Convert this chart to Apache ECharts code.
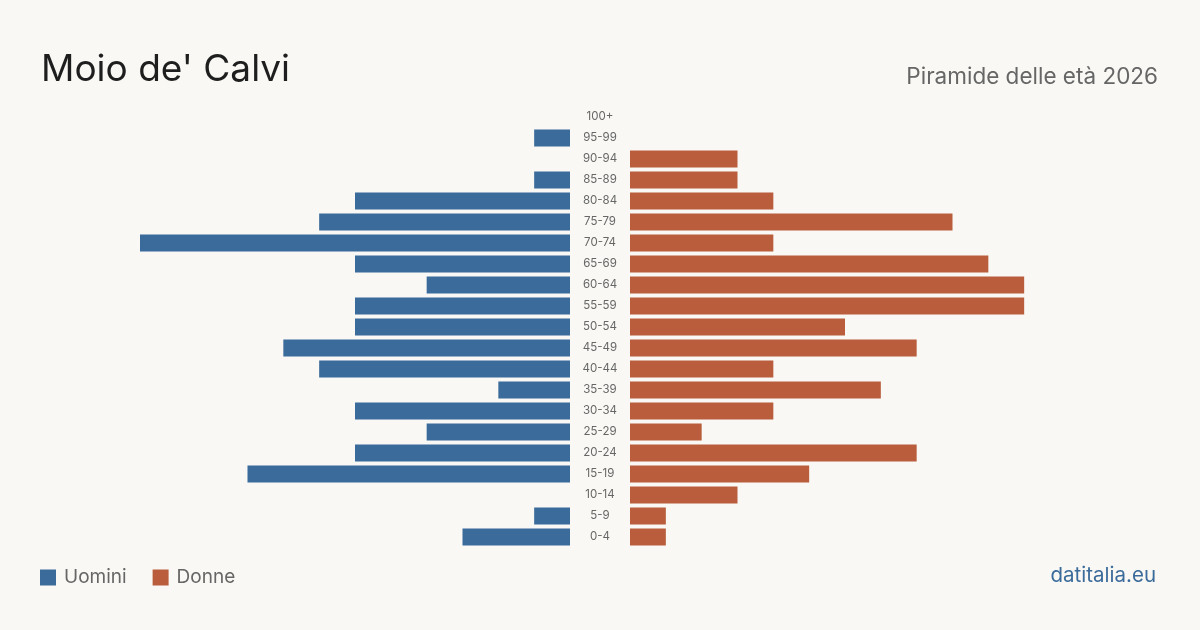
<!DOCTYPE html>
<html>
<head>
<meta charset="utf-8">
<script src="https://cdn.jsdelivr.net/npm/echarts@6/dist/echarts.min.js"></script>
<style>
  html, body { margin: 0; padding: 0; background: #f9f8f4; }
  #main { width: 1200px; height: 630px; }
</style>
</head>
<body>
<div id="main"></div>
<script>
// fasce d'età, dal basso verso l'alto
var ages = ['0-4', '5-9', '10-14', '15-19', '20-24', '25-29', '30-34', '35-39', '40-44', '45-49',
    '50-54', '55-59', '60-64', '65-69', '70-74', '75-79', '80-84', '85-89', '90-94', '95-99', '100+'];
var uomini = [3, 1, 0, 9, 6, 4, 6, 2, 7, 8, 6, 6, 4, 6, 12, 7, 6, 1, 0, 1, 0];
var donne = [1, 1, 3, 5, 8, 2, 4, 7, 4, 8, 6, 11, 11, 10, 4, 9, 4, 3, 3, 0, 0];

var BLUE = '#3b6b9b';
var RED = '#b95d3c';
var FONT = 'Inter, "Noto Sans", sans-serif';

~function () {
    var myChart = echarts.init(document.getElementById('main'));
    var option = {
        backgroundColor: '#f9f8f4',
        animation: false,
        textStyle: {fontFamily: FONT},
        title: [
            {
                text: "Moio de' Calvi",
                left: 41,
                top: 51,
                padding: 0,
                textStyle: {fontSize: 37, fontWeight: 'normal', color: '#1e1e1e', fontFamily: FONT}
            },
            {
                text: 'Piramide delle età 2026',
                right: 42,
                top: 66,
                padding: 0,
                textStyle: {fontSize: 22.5, fontWeight: 'normal', color: '#666', fontFamily: FONT}
            },
            {
                text: 'datitalia.eu',
                right: 44,
                top: 565,
                padding: 0,
                textStyle: {fontSize: 20.5, fontWeight: 'normal', color: '#3b6b9b', fontFamily: FONT}
            }
        ],
        legend: {
            left: 40,
            top: 568,
            padding: 0,
            itemWidth: 16,
            itemHeight: 16,
            itemGap: 26,
            icon: 'rect',
            textStyle: {fontSize: 19, color: '#666', fontFamily: FONT, padding: [0, 0, 0, 3]},
            data: ['Uomini', 'Donne']
        },
        grid: [
            {left: 140, width: 430, top: 106.5, height: 441},
            {left: 630, width: 430, top: 106.5, height: 441}
        ],
        xAxis: [
            {gridIndex: 0, type: 'value', min: 0, max: 12, inverse: true, show: false},
            {gridIndex: 1, type: 'value', min: 0, max: 12, show: false}
        ],
        yAxis: [
            {
                gridIndex: 0, type: 'category', data: ages,
                axisLine: {show: false}, axisTick: {show: false}, axisLabel: {show: false}
            },
            {
                gridIndex: 1, type: 'category', data: ages, position: 'left',
                axisLine: {show: false}, axisTick: {show: false},
                axisLabel: {
                    margin: 30, align: 'center', fontSize: 11.5, color: '#666', fontFamily: FONT,
                    padding: [2, 0, 0, 0]
                }
            }
        ],
        series: [
            {
                name: 'Uomini',
                type: 'bar',
                xAxisIndex: 0,
                yAxisIndex: 0,
                barWidth: 17,
                itemStyle: {color: BLUE},
                data: uomini
            },
            {
                name: 'Donne',
                type: 'bar',
                xAxisIndex: 1,
                yAxisIndex: 1,
                barWidth: 17,
                itemStyle: {color: RED},
                data: donne
            }
        ]
    };
    myChart.setOption(option);
}();
</script>
</body>
</html>
